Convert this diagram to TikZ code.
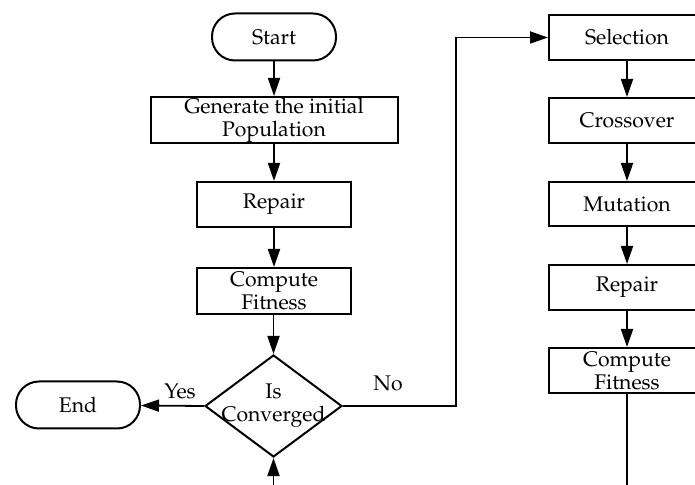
\documentclass[tikz,border=0pt]{standalone}
\usepackage[T1]{fontenc}
\usepackage{mathpazo}
\usetikzlibrary{arrows.meta,shapes.geometric}
\begin{document}
\begin{tikzpicture}[x=0.5pt,y=-0.5pt,
  every node/.style={font=\fontsize{10.6}{11.5}\selectfont, inner sep=0pt, align=center},
  box/.style={draw, line width=1pt, minimum height=22.5pt},
  lbox/.style={box, minimum width=77pt},
  rbox/.style={box, minimum width=78pt},
  term/.style={draw, line width=1pt, rounded corners=11.5pt, minimum width=62pt, minimum height=23.5pt},
  dec/.style={draw, diamond, line width=1pt, minimum width=68.5pt, minimum height=51pt},
  conn/.style={line width=0.9pt, -{Triangle[length=9pt,width=6pt]}},
  plain/.style={line width=0.9pt}]
\clip (0,0) rectangle (695,485);
\fill[white] (0,0) rectangle (695,485);
% left column
\node[term] (start) at (274,37) {Start};
\node[box, minimum width=123.5pt, minimum height=23pt] (gen) at (274,120) {Generate the initial\\Population};
\node[lbox] (rep1) at (274,204.5) {Repair};
\node[lbox, minimum height=23pt] (fit1) at (274,291) {Compute\\Fitness};
\node[dec] (dia) at (273.5,406) {};
\node (diat) at (273.5,406) {Is\\Converged};
\node[term] (end) at (78,405) {End};
\node (yes) at (180,391) {Yes};
\node (no) at (388,383) {No};
% right column
\node[rbox] (sel) at (627,37.5) {Selection};
\node[rbox] (cro) at (627,120.5) {Crossover};
\node[rbox, minimum height=22pt] (mut) at (627,204) {Mutation};
\node[rbox] (rep2) at (627,287.5) {Repair};
\node[rbox] (fit2) at (627,370.5) {Compute\\Fitness};
\coordinate (botR) at (627,485);
\coordinate (botL) at (273.5,485);
\coordinate (noc) at (456,406);
% connectors
\draw[conn] (start) -- (gen);
\draw[conn] (gen) -- (rep1);
\draw[conn] (rep1) -- (fit1);
\draw[conn] (fit1.south -| dia.north) -- (dia.north);
\draw[conn] (dia.west) -- (end);
\draw[conn] (dia.east) -- (noc) |- (sel.west);
\draw[conn] (sel) -- (cro);
\draw[conn] (cro) -- (mut);
\draw[conn] (mut) -- (rep2);
\draw[conn] (rep2) -- (fit2);
\draw[plain] (fit2) -- (botR);
\draw[conn] (botL) -- (dia.south);
\end{tikzpicture}
\end{document}
